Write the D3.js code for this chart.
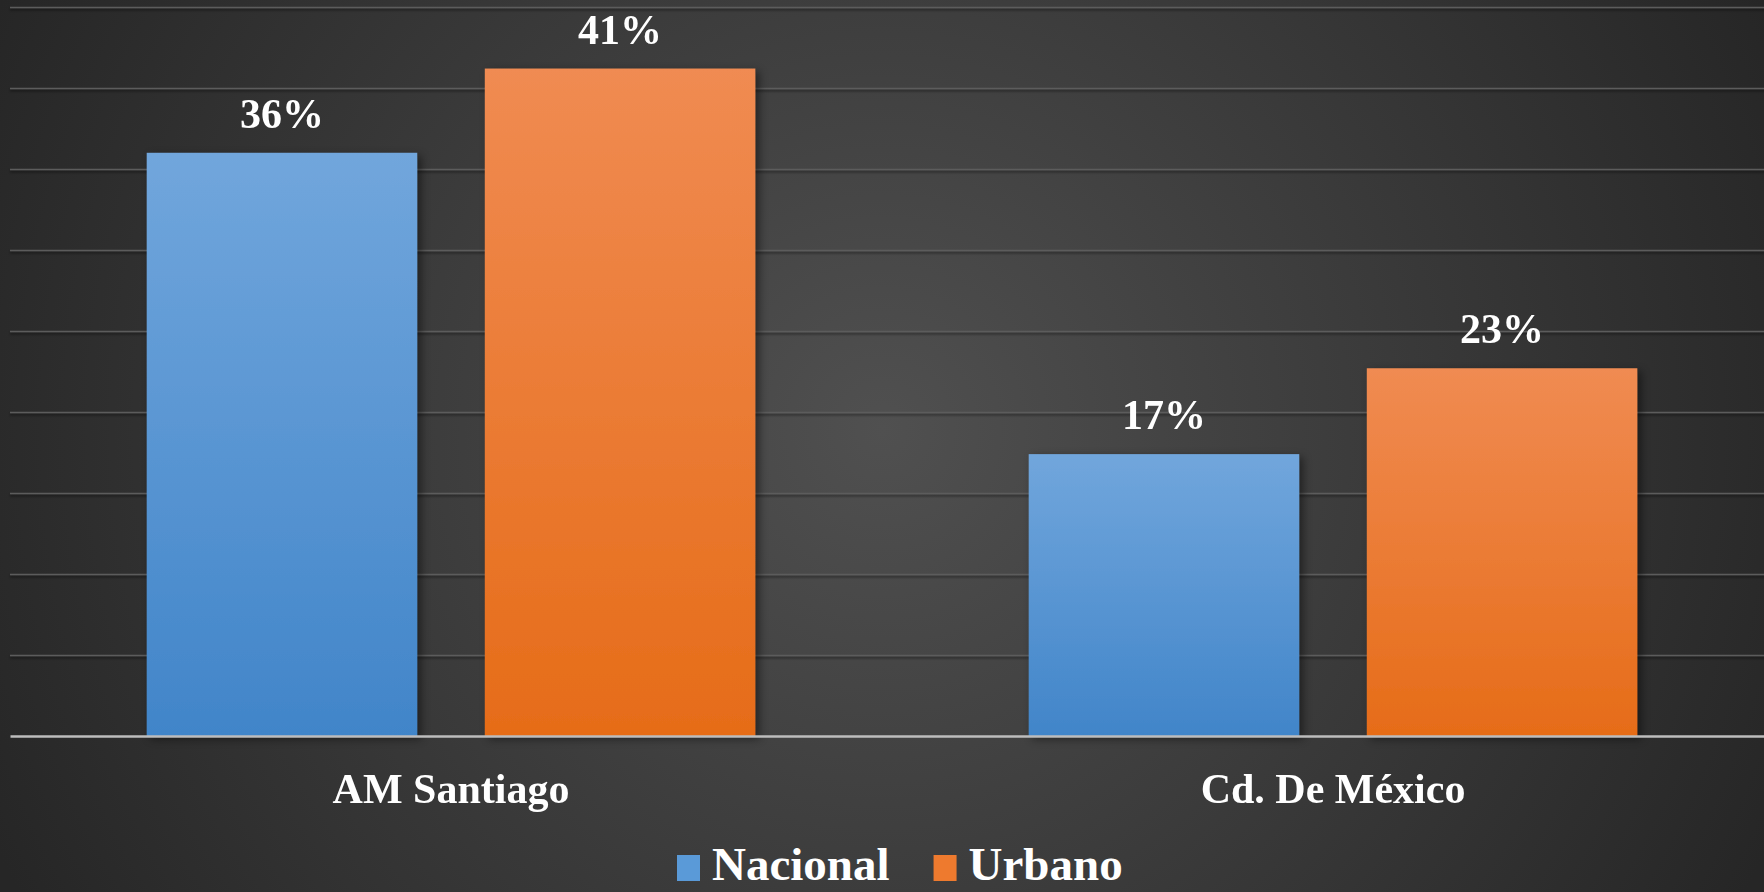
<!DOCTYPE html>
<html>
<head>
<meta charset="utf-8">
<script src="https://cdn.jsdelivr.net/npm/d3@7"></script>
<style>
  body { margin: 0; background: #2a2a2a; overflow: hidden; }
  text { font-family: "Liberation Serif", "Times New Roman", serif; font-weight: bold; fill: #ffffff; }
</style>
</head>
<body>
<script>
var categories = ['AM Santiago', 'Cd. De México']
var series = ['Nacional', 'Urbano']
var nacional = [0.36, 0.174]
var urbano = [0.412, 0.227]
var gridTicks = [0.05, 0.10, 0.15, 0.20, 0.25, 0.30, 0.35, 0.40, 0.45]

var width = 1764
var height = 892
var margin = {left: 10, right: -10, top: 7, bottom: 156}  // plot area runs a little past the right edge

var svg = d3.select('body').append('svg').attr('width', width).attr('height', height)
var defs = svg.append('defs')

// dark background, lighter in the middle
var bg = defs.append('radialGradient').attr('id', 'bg')
  .attr('gradientUnits', 'userSpaceOnUse')
  .attr('cx', 882).attr('cy', 430).attr('r', 980)
bg.append('stop').attr('offset', '0%').attr('stop-color', '#505050')
bg.append('stop').attr('offset', '100%').attr('stop-color', '#262626')

var gradBlue = defs.append('linearGradient').attr('id', 'gBlue').attr('x1', 0).attr('y1', 0).attr('x2', 0).attr('y2', 1)
gradBlue.append('stop').attr('offset', '0%').attr('stop-color', '#71a6dc')
gradBlue.append('stop').attr('offset', '100%').attr('stop-color', '#4185c9')
var gradOrange = defs.append('linearGradient').attr('id', 'gOrange').attr('x1', 0).attr('y1', 0).attr('x2', 0).attr('y2', 1)
gradOrange.append('stop').attr('offset', '0%').attr('stop-color', '#f08b52')
gradOrange.append('stop').attr('offset', '100%').attr('stop-color', '#e66c18')

var shadow = defs.append('filter').attr('id', 'shadow').attr('x', '-10%').attr('y', '-10%').attr('width', '130%').attr('height', '130%')
shadow.append('feDropShadow').attr('dx', 4).attr('dy', 3).attr('stdDeviation', 4)
  .attr('flood-color', '#000').attr('flood-opacity', 0.45)

var lineShadow = defs.append('filter').attr('id', 'lineShadow').attr('x', '-1%').attr('y', '-200%').attr('width', '102%').attr('height', '500%')
lineShadow.append('feDropShadow').attr('dx', 0).attr('dy', 2).attr('stdDeviation', 1)
  .attr('flood-color', '#000').attr('flood-opacity', 0.5)

svg.append('rect').attr('width', width).attr('height', height).attr('fill', 'url(#bg)')

var y = d3.scaleLinear()
  .domain([0, 0.45])
  .range([height - margin.bottom, margin.top])

var x0 = d3.scaleBand()
  .domain(categories)
  .range([margin.left, width - margin.right])
  .paddingInner(0.31)
  .paddingOuter(0.155)

var x1 = d3.scaleBand()
  .domain(series)
  .range([0, x0.bandwidth()])
  .paddingInner(0.2)

var color = {Nacional: 'url(#gBlue)', Urbano: 'url(#gOrange)'}
var legendColor = {Nacional: '#5a9ad8', Urbano: '#ee7a2e'}

// gridlines
var yGrid = d3.axisLeft(y).tickValues(gridTicks).tickSize(-(width - margin.left - margin.right)).tickFormat('')
var grid = svg.append('g')
  .attr('class', 'grid')
  .attr('transform', `translate(${margin.left},0)`)
  .attr('filter', 'url(#lineShadow)')
  .call(yGrid)
grid.select('.domain').remove()
grid.selectAll('line').attr('stroke', '#5c5c5c').attr('stroke-width', 1.5)

var rows = categories.map((c, i) => ({cat: c, values: [
  {key: 'Nacional', value: nacional[i]},
  {key: 'Urbano', value: urbano[i]}
]}))

var groups = svg.selectAll('g.cat').data(rows).enter().append('g')
  .attr('class', 'cat')
  .attr('transform', d => `translate(${x0(d.cat)},0)`)

groups.selectAll('rect').data(d => d.values).enter().append('rect')
  .attr('x', d => x1(d.key))
  .attr('y', d => y(d.value))
  .attr('width', x1.bandwidth())
  .attr('height', d => y(0) - y(d.value))
  .attr('fill', d => color[d.key])
  .attr('filter', 'url(#shadow)')

groups.selectAll('text.val').data(d => d.values).enter().append('text')
  .attr('class', 'val')
  .attr('x', d => x1(d.key) + x1.bandwidth() / 2)
  .attr('y', d => y(d.value) - 25)
  .attr('text-anchor', 'middle')
  .style('font-size', '42px')
  .text(d => d3.format('.0%')(d.value))

// x axis
var xAxis = d3.axisBottom(x0).tickSize(0).tickPadding(0)
var xg = svg.append('g')
  .attr('class', 'axis x')
  .attr('transform', `translate(0,${y(0)})`)
  .call(xAxis)
xg.select('.domain').attr('stroke', '#bdbdbd').attr('stroke-width', 2.5)
xg.selectAll('text')
  .attr('dy', null)
  .attr('y', 67)
  .attr('fill', '#fff')
  .style('font-size', '42px')
  .style('font-family', '"Liberation Serif", serif')
  .style('font-weight', 'bold')

// legend (kept just inside the bottom edge)
var legend = svg.append('g').attr('class', 'legend').attr('transform', 'translate(677,880)')
var lx = 0
series.forEach(s => {
  var item = legend.append('g').attr('transform', `translate(${lx},0)`)
  item.append('rect').attr('x', 0).attr('y', -25).attr('width', 23).attr('height', 26).attr('fill', legendColor[s])
  var t = item.append('text').attr('x', 35).attr('y', 0).style('font-size', '47px').text(s)
  lx += 35 + t.node().getComputedTextLength() + 44
})
</script>
</body>
</html>
